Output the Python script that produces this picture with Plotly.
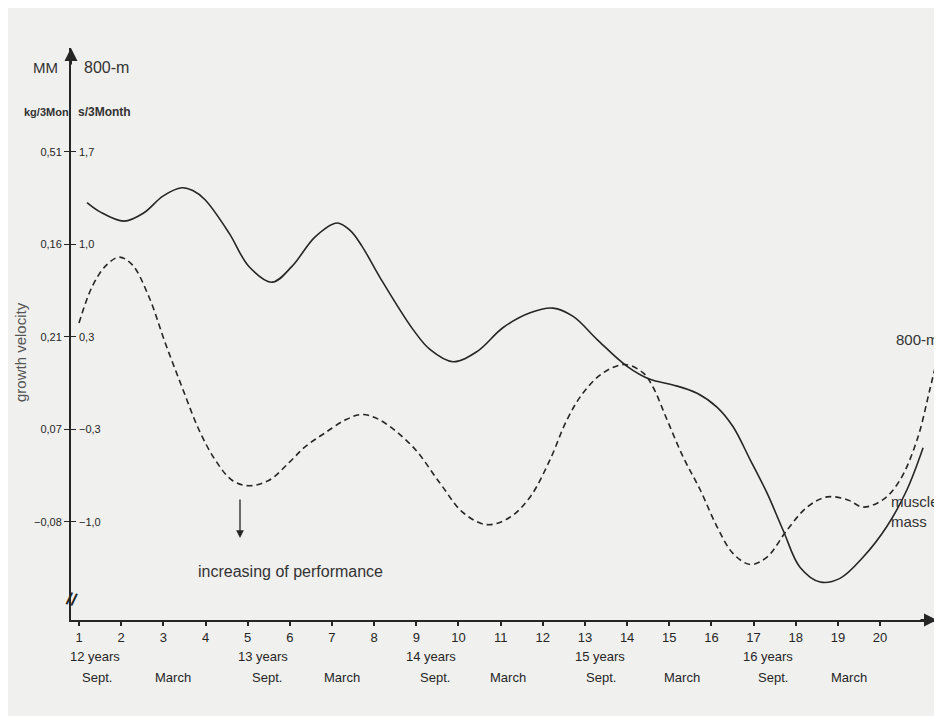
import plotly.graph_objects as go

# ---- data (x = month index 1..20, y = grid units: 0 at "-1,0", 1 per tick step) ----
muscle_x = [1.19, 1.50, 2.07, 2.54, 2.99, 3.44, 3.70, 3.99, 4.56, 5.03, 5.58, 6.05, 6.60, 7.12, 7.43,
            7.71, 8.14, 8.92, 9.33, 9.87, 10.44, 11.06, 11.70, 12.24, 12.72, 13.29, 14.00,
            14.54, 15.09, 15.66, 16.13, 16.51, 16.92, 17.32, 17.70, 18.10, 18.58, 19.05,
            19.60, 20.16, 20.64, 21.02]
muscle_y = [3.45, 3.35, 3.25, 3.34, 3.52, 3.61, 3.58, 3.48, 3.12, 2.76, 2.59, 2.76, 3.08, 3.23, 3.15,
            2.98, 2.64, 2.08, 1.86, 1.73, 1.84, 2.10, 2.26, 2.31, 2.22, 1.97, 1.68,
            1.54, 1.48, 1.39, 1.24, 1.03, 0.67, 0.31, -0.09, -0.49, -0.65, -0.61,
            -0.38, -0.05, 0.35, 0.80]

run_x = [1.00, 1.31, 1.62, 1.95, 2.26, 2.66, 3.04, 3.44, 3.85, 4.23, 4.63, 5.03, 5.51, 5.98,
         6.36, 6.83, 7.31, 7.71, 8.14, 8.92, 9.56, 10.11, 10.68, 11.22, 11.70, 12.17, 12.57,
         12.95, 13.43, 13.95, 14.38, 14.61, 14.95, 15.33, 15.73, 16.13, 16.51, 16.92, 17.32,
         17.79, 18.27, 18.74, 19.22, 19.60, 20.07, 20.47, 20.88, 21.18, 21.42]
run_y = [2.15, 2.54, 2.76, 2.86, 2.78, 2.43, 1.94, 1.46, 0.99, 0.67, 0.45, 0.39, 0.45, 0.64,
         0.81, 0.96, 1.10, 1.16, 1.10, 0.81, 0.42, 0.10, -0.03, 0.05, 0.27, 0.67, 1.10,
         1.39, 1.61, 1.70, 1.61, 1.46, 1.10, 0.70, 0.35, -0.05, -0.34, -0.46, -0.38,
         -0.09, 0.16, 0.27, 0.24, 0.16, 0.24, 0.45, 0.89, 1.43, 1.89]

y_tickvals = [0, 1, 2, 3, 4]
mm_labels = ["\u22120,08", "0,07", "0,21", "0,16", "0,51"]
run_labels = ["\u22121,0", "\u22120,3", "0,3", "1,0", "1,7"]

x_ticks = list(range(1, 21))
year_labels = ["12 years", "13 years", "14 years", "15 years", "16 years"]
year_pos = [1.38, 5.36, 9.36, 13.35, 17.33]
month_labels = ["Sept.", "March", "Sept.", "March", "Sept.", "March", "Sept.", "March", "Sept.", "March"]
month_pos = [1.43, 3.23, 5.45, 7.23, 9.44, 11.17, 13.39, 15.31, 17.45, 19.27]

# ---- layout geometry (page has an 8px body margin) ----
OFF = 8
W, H = 942 - OFF, 716 - OFF
L, R, T, B = 71 - OFF, 5, 48 - OFF, 96
PW, PH = W - L - R, H - T - B
XR = [0.81, 21.35]
YR = [-1.06, 5.12]
INK = "#262626"
TXT = "#333333"
BG = "#f0f0ee"
FONT = "Liberation Sans"
NARROW = "Liberation Sans Narrow, Liberation Sans"


def px(xp):  # page pixel -> paper x
    return (xp - OFF - L) / PW


def py(yp):  # page pixel -> paper y
    return (H - B - (yp - OFF)) / PH


fig = go.Figure()
fig.add_trace(go.Scatter(x=run_x, y=run_y, mode="lines",
                         line=dict(color=INK, width=1.6, dash="6px,4px", shape="spline", smoothing=1.0),
                         name="800-m", showlegend=False))
fig.add_trace(go.Scatter(x=muscle_x, y=muscle_y, mode="lines",
                         line=dict(color=INK, width=1.6, shape="spline", smoothing=1.0),
                         name="muscle mass", showlegend=False))
fig.add_trace(go.Scatter(x=[XR[0]], y=[YR[0]], yaxis="y2", mode="markers", marker=dict(opacity=0),
                         showlegend=False, hoverinfo="skip"))

ann = []
for t, yv in zip(run_labels, y_tickvals):
    ann.append(dict(x=px(77), y=yv, xref="paper", yref="y", text=t, xanchor="left", yanchor="middle",
                    showarrow=False, font=dict(family=NARROW, size=11, color=INK)))
for t, xv in zip(year_labels, year_pos):
    ann.append(dict(x=xv, y=py(657), xref="x", yref="paper", text=t, xanchor="center", yanchor="middle",
                    showarrow=False, font=dict(family=NARROW, size=13, color=INK)))
for t, xv in zip(month_labels, month_pos):
    ann.append(dict(x=xv, y=py(677), xref="x", yref="paper", text=t, xanchor="center", yanchor="middle",
                    showarrow=False, font=dict(family=NARROW, size=13, color=INK)))

txt = dict(showarrow=False, xref="paper", yref="paper", yanchor="middle")
ann += [
    dict(x=px(45), y=py(67), text="MM", xanchor="center", font=dict(family=FONT, size=15, color=TXT), **txt),
    dict(x=px(106), y=py(67), text="800-m", xanchor="center", font=dict(family=FONT, size=16, color=TXT), **txt),
    dict(x=px(46), y=py(112), text="<b>kg/3Mon</b>", xanchor="center",
         font=dict(family=NARROW, size=11, color=TXT), **txt),
    dict(x=px(104), y=py(112), text="<b>s/3Month</b>", xanchor="center",
         font=dict(family=NARROW, size=12, color=TXT), **txt),
    dict(x=px(20), y=py(352), text="growth velocity", textangle=-90, xanchor="center",
         font=dict(family=FONT, size=15, color="#555"), **txt),
    dict(x=px(941), y=py(340), text="800-m", xanchor="right", font=dict(family=FONT, size=15, color=TXT), **txt),
    dict(x=px(941), y=py(511), text="muscle<br>mass", xanchor="right", align="left",
         font=dict(family=NARROW, size=15, color=TXT), **txt),
    dict(x=px(290), y=py(571), text="increasing of performance", xanchor="center",
         font=dict(family=FONT, size=16, color=TXT), **txt),
    dict(x=px(72), y=py(599), text="<b>//</b>", xanchor="center", font=dict(family=FONT, size=17, color=INK),
         textangle=15, **txt),
    dict(x=px(240), y=py(538), ax=0, ay=-40, xref="paper", yref="paper", text="", showarrow=True,
         arrowhead=2, arrowsize=1.2, arrowwidth=1.3, arrowcolor=INK),
    dict(x=1.0, y=0.0, ax=-18, ay=0, xref="paper", yref="paper", text="", showarrow=True,
         arrowhead=2, arrowsize=1.3, arrowwidth=2, arrowcolor=INK),
    dict(x=0.0, y=1.0, ax=0, ay=18, xref="paper", yref="paper", text="", showarrow=True,
         arrowhead=2, arrowsize=1.3, arrowwidth=2, arrowcolor=INK),
]

fig.update_layout(
    width=W, height=H,
    margin=dict(l=L, r=R, t=T, b=B, pad=0),
    paper_bgcolor=BG, plot_bgcolor=BG,
    showlegend=False,
    xaxis=dict(range=XR, tickvals=x_ticks, ticktext=[str(v) for v in x_ticks], ticks="outside", ticklen=4,
               tickcolor=INK, tickwidth=1.5, showline=True, linecolor=INK, linewidth=2, showgrid=False,
               zeroline=False, tickfont=dict(family=NARROW, size=13, color=INK)),
    yaxis=dict(range=YR, tickvals=y_tickvals, ticktext=mm_labels, ticks="outside", ticklen=5,
               tickcolor=INK, tickwidth=1.2, showline=True, linecolor=INK, linewidth=2, showgrid=False,
               zeroline=False, tickfont=dict(family=NARROW, size=11, color=INK)),
    yaxis2=dict(range=YR, overlaying="y", anchor="x", side="left", tickvals=y_tickvals,
                ticks="inside", ticklen=5, tickcolor=INK, tickwidth=1.2, showticklabels=False,
                showline=False, showgrid=False, zeroline=False),
    annotations=ann,
)

fig.write_html("out.html")
